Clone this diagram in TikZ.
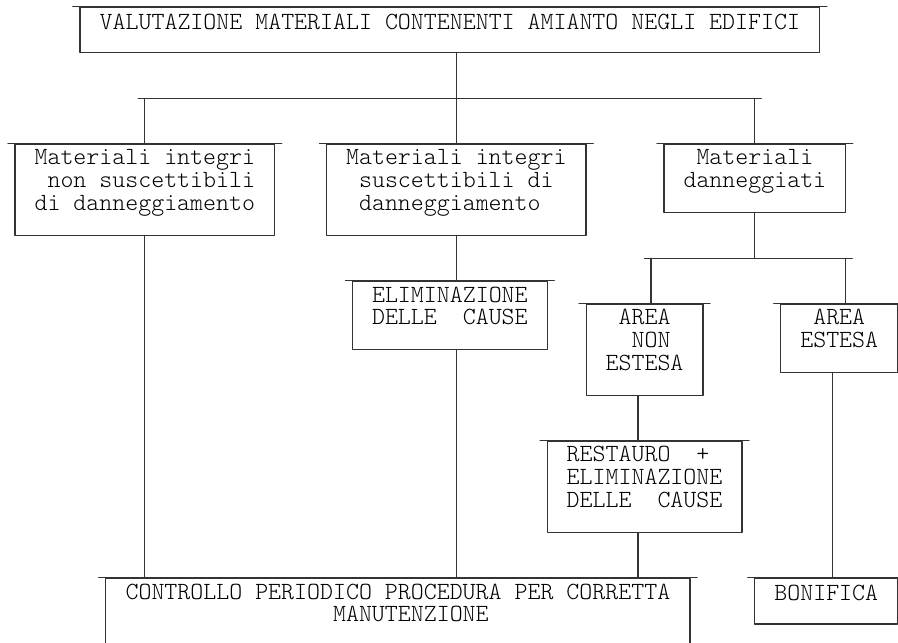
\documentclass[tikz,border=0pt]{standalone}
\usetikzlibrary{positioning}
\newcommand{\gapch}{\hphantom{x}}
\begin{document}
\begin{tikzpicture}[x=1pt, y=-1pt, line cap=round, line join=round,
        frame/.style={draw=black!80, line width=1.25pt, inner sep=0pt},
        txt/.style={font=\fontsize{24.7}{22.85}\fontfamily{lmtt}\fontseries{l}\selectfont, align=center, inner sep=0pt,
            execute at begin node=\rule{0pt}{17pt}},
        link/.style={draw=black!80, line width=1.25pt},
        bar/.style={link, shorten <=-6.5pt, shorten >=-6.5pt}]
            \useasboundingbox (0,0) rectangle (898,643);
            \node[frame, minimum width=739.9pt, minimum height=45.7pt] (valut) at (449.85,29.85) {};
            \node[frame, minimum width=259.6pt, minimum height=91.4pt] (integri) at (144.8,189.8) {};
            \node[frame, minimum width=259.6pt, minimum height=91.4pt] (susc) at (456.32,189.8) {};
            \node[frame, minimum width=181.7pt, minimum height=68.55pt] (dann) at (754.86,178.38) {};
            \node[frame, minimum width=194.7pt, minimum height=68.55pt] (elim) at (449.85,315.48) {};
            \node[frame, minimum width=116.8pt, minimum height=91.4pt] (areanon) at (644.55,349.75) {};
            \node[frame, minimum width=116.8pt, minimum height=68.55pt] (areaest) at (839.23,338.33) {};
            \node[frame, minimum width=194.7pt, minimum height=91.4pt] (restauro) at (644.55,486.85) {};
            \node[frame, minimum width=584.1pt, minimum height=91.4pt] (controllo) at (397.91,623.95) {};
            \node[frame, minimum width=142.8pt, minimum height=45.7pt] (bonifica) at (826.25,601.1) {};
            \foreach \b in {valut,integri,susc,dann,elim,areanon,areaest,restauro,controllo,bonifica}{
                \draw[bar] (\b.north west) -- (\b.north east);
            }
            \node[txt, below=5.85pt of valut.north] (valutT) {VALUTAZIONE MATERIALI CONTENENTI AMIANTO NEGLI EDIFICI};
            \node[txt, below=5.85pt of integri.north] (integriT) {Materiali integri\\\gapch non suscettibili\\di danneggiamento};
            \node[txt, below=5.85pt of susc.north] (suscT) {Materiali integri\\suscettibili di\\danneggiamento\gapch};
            \node[txt, below=5.85pt of dann.north] (dannT) {Materiali\\danneggiati};
            \node[txt, below=5.85pt of elim.north] (elimT) {ELIMINAZIONE\\DELLE~~CAUSE};
            \node[txt, below=5.85pt of areanon.north] (areanonT) {AREA\\\gapch NON\\ESTESA};
            \node[txt, below=5.85pt of areaest.north] (areaestT) {AREA\\ESTESA};
            \node[txt, below=5.85pt of restauro.north] (restauroT) {RESTAURO~~+\gapch\\ELIMINAZIONE\\DELLE~~CAUSE};
            \node[txt, below=5.85pt of controllo.north] (controlloT) {CONTROLLO PERIODICO PROCEDURA PER CORRETTA\\\gapch\gapch MANUTENZIONE};
            \node[txt, below=5.85pt of bonifica.north] (bonificaT) {BONIFICA};
            \coordinate (j0) at (456.32,98.4);
            \coordinate (j1) at (754.86,258.35);
            \coordinate (col48) at (638.04,0);
            \coordinate (col49) at (651.02,0);
            \coordinate (col63) at (832.74,0);
            \coordinate (col64) at (845.72,0);
            \draw[link] (valut.south -| j0) -- (susc.north);
            \draw[bar] (j0 -| integri.north) -- (j0 -| dann.north);
            \draw[link] (j0 -| integri.north) -- (integri.north);
            \draw[link] (j0 -| dann.north) -- (dann.north);
            \draw[link] (integri.south) -- (integri.south |- controllo.north);
            \draw[link] (susc.south) -- (susc.south |- elim.north);
            \draw[link] (susc.south |- elim.south) -- (susc.south |- controllo.north);
            \draw[link] (dann.south) -- (j1);
            \draw[bar] (j1 -| col49) -- (j1 -| col64);
            \draw[link] (j1 -| col49) -- (areanon.north -| col49);
            \draw[link] (j1 -| col64) -- (areaest.north -| col64);
            \draw[link] (areanon.south -| col48) -- (restauro.north -| col48);
            \draw[link] (restauro.south -| col48) -- (controllo.north -| col48);
            \draw[link] (areaest.south -| col63) -- (bonifica.north -| col63);
        \end{tikzpicture}
\end{document}
